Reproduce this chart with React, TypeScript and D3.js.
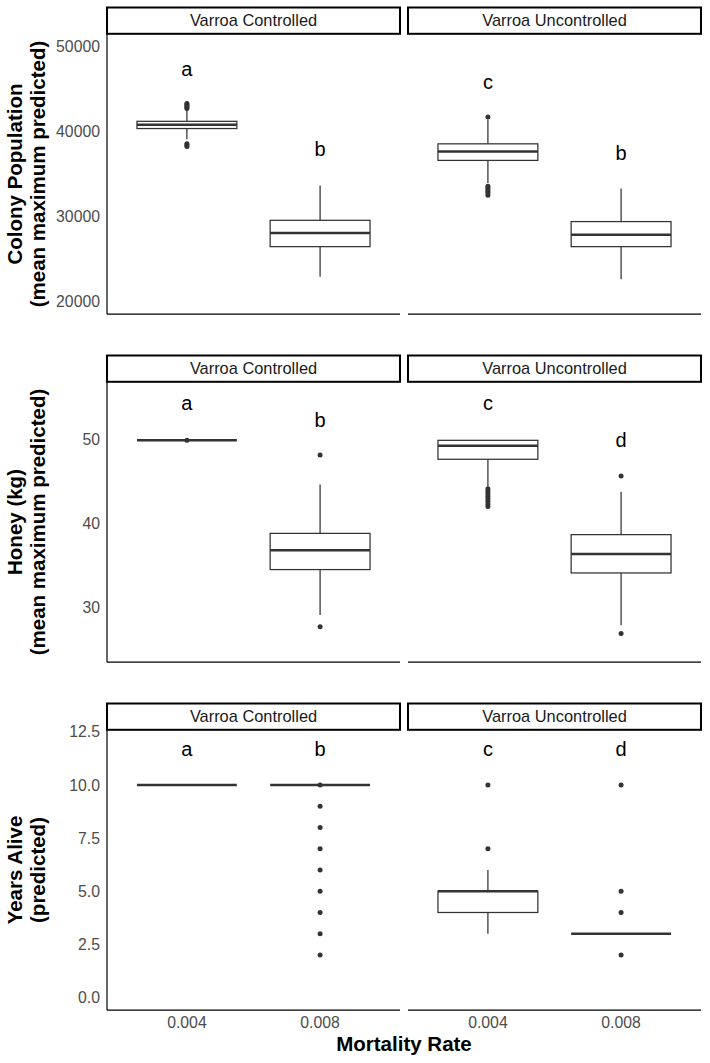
import React from "react";
import * as d3 from "d3";

const mortalityRates = ["0.004", "0.008"];
const varroaFacets = ["Varroa Controlled", "Varroa Uncontrolled"];

type Box = {
  facet: string;
  rate: string;
  lo: number;
  q1: number;
  median: number;
  q3: number;
  hi: number;
  outliers: number[];
};

const colonyBoxes: Box[] = [
  { facet: "Varroa Controlled", rate: "0.004", lo: 39100, q1: 40350, median: 40800, q3: 41200, hi: 42500, outliers: [43300, 43150, 43000, 42850, 42700, 38550, 38400, 38250] },
  { facet: "Varroa Controlled", rate: "0.008", lo: 22900, q1: 26450, median: 28050, q3: 29550, hi: 33650, outliers: [] },
  { facet: "Varroa Uncontrolled", rate: "0.004", lo: 33950, q1: 36600, median: 37650, q3: 38550, hi: 41400, outliers: [41700, 33550, 33350, 33150, 32950, 32750, 32500] },
  { facet: "Varroa Uncontrolled", rate: "0.008", lo: 22600, q1: 26450, median: 27850, q3: 29400, hi: 33300, outliers: [] },
];

const honeyBoxes: Box[] = [
  { facet: "Varroa Controlled", rate: "0.004", lo: 49.85, q1: 49.85, median: 49.85, q3: 49.85, hi: 49.85, outliers: [49.85] },
  { facet: "Varroa Controlled", rate: "0.008", lo: 29.1, q1: 34.5, median: 36.8, q3: 38.8, hi: 44.6, outliers: [48.1, 27.7] },
  { facet: "Varroa Uncontrolled", rate: "0.004", lo: 44.4, q1: 47.6, median: 49.2, q3: 49.85, hi: 49.85, outliers: [44.1, 43.8, 43.5, 43.2, 42.9, 42.6, 42.3, 42.0] },
  { facet: "Varroa Uncontrolled", rate: "0.008", lo: 27.9, q1: 34.1, median: 36.35, q3: 38.65, hi: 43.75, outliers: [45.6, 26.9] },
];

const yearsBoxes: Box[] = [
  { facet: "Varroa Controlled", rate: "0.004", lo: 10, q1: 10, median: 10, q3: 10, hi: 10, outliers: [] },
  { facet: "Varroa Controlled", rate: "0.008", lo: 10, q1: 10, median: 10, q3: 10, hi: 10, outliers: [10, 9, 8, 7, 6, 5, 4, 3, 2] },
  { facet: "Varroa Uncontrolled", rate: "0.004", lo: 3, q1: 4, median: 5, q3: 5, hi: 6, outliers: [7, 10] },
  { facet: "Varroa Uncontrolled", rate: "0.008", lo: 3, q1: 3, median: 3, q3: 3, hi: 3, outliers: [10, 5, 4, 2] },
];

const colonyLetters = ["a", "b", "c", "b"];
const colonyLetterY = [47400, 37900, 45850, 37500];
const honeyLetters = ["a", "b", "c", "d"];
const honeyLetterY = [54.25, 52.3, 54.25, 49.85];
const yearsLetters = ["a", "b", "c", "d"];
const yearsLetterY = [11.7, 11.7, 11.7, 11.7];

const colonyTicks = [20000, 30000, 40000, 50000];
const honeyTicks = [30, 40, 50];
const yearsTicks = [0, 2.5, 5, 7.5, 10, 12.5];

const colonyDomain = [18500, 51500];
const honeyDomain = [23.5, 56.8];
const yearsDomain = [-0.6, 12.6];

const FONT = "'Liberation Sans', Arial, Helvetica, sans-serif";
const BOX_COLOR = "#333333";

type Row = {
  boxes: Box[];
  letters: string[];
  letterY: number[];
  ticks: number[];
  domain: number[];
  fmt: (v: number) => string;
  title: string[];
  top: number;
  showX: boolean;
};

const rows: Row[] = [
  { boxes: colonyBoxes, letters: colonyLetters, letterY: colonyLetterY, ticks: colonyTicks, domain: colonyDomain, fmt: d3.format("d"), title: ["Colony Population", "(mean maximum predicted)"], top: 7.5, showX: false },
  { boxes: honeyBoxes, letters: honeyLetters, letterY: honeyLetterY, ticks: honeyTicks, domain: honeyDomain, fmt: d3.format("d"), title: ["Honey (kg)", "(mean maximum predicted)"], top: 355.5, showX: false },
  { boxes: yearsBoxes, letters: yearsLetters, letterY: yearsLetterY, ticks: yearsTicks, domain: yearsDomain, fmt: d3.format(".1f"), title: ["Years Alive", "(predicted)"], top: 703.5, showX: true },
];

const STRIP_H = 26.3;
const PANEL_H = 280.4;
const panelLefts = [107, 408];
const PANEL_W = 293;

function RowView({ row }: { row: Row }) {
  const stripTop = row.top;
  const pTop = stripTop + STRIP_H;
  const pBottom = pTop + PANEL_H;
  const y = d3.scaleLinear().domain(row.domain).range([pBottom, pTop]);
  const x = d3.scalePoint<string>().domain(mortalityRates).range([0, PANEL_W]).padding(0.6);
  const bw = x.step() * 0.75;
  const cy = (pTop + pBottom) / 2;
  return (
    <g>
      <text transform={`translate(0, ${cy}) rotate(-90)`} textAnchor="middle" fontFamily={FONT} fontWeight="bold" fontSize={20.5} fill="#000">
        <tspan x={0} y={22}>{row.title[0]}</tspan>
        <tspan x={0} y={44.5}>{row.title[1]}</tspan>
      </text>
      {row.ticks.map((t) => (
        <text key={t} x={100} y={y(t)} dy="0.35em" textAnchor="end" fontFamily={FONT} fontSize={15.8} fill="#4d4d4d">
          {row.fmt(t)}
        </text>
      ))}
      {varroaFacets.map((facet, fi) => {
        const left = panelLefts[fi];
        const boxes = row.boxes.filter((b) => b.facet === facet);
        return (
          <g key={facet}>
            <rect x={left} y={stripTop} width={PANEL_W} height={STRIP_H} fill="white" stroke="#000" strokeWidth={2} />
            <text x={left + PANEL_W / 2} y={stripTop + STRIP_H / 2} dy="0.35em" textAnchor="middle" fontFamily={FONT} fontSize={16.4} fill="#1a1a1a">
              {facet}
            </text>
            {fi === 0 && <line x1={left} x2={left} y1={pTop} y2={pBottom} stroke="#000" strokeWidth={1.2} />}
            <line x1={left} x2={left + PANEL_W} y1={pBottom} y2={pBottom} stroke="#000" strokeWidth={1.2} />
            {boxes.map((b) => {
              const cx = left + (x(b.rate) as number);
              return (
                <g key={b.rate}>
                  <line x1={cx} x2={cx} y1={y(b.hi)} y2={y(b.q3)} stroke={BOX_COLOR} strokeWidth={1.25} />
                  <line x1={cx} x2={cx} y1={y(b.q1)} y2={y(b.lo)} stroke={BOX_COLOR} strokeWidth={1.25} />
                  <rect x={cx - bw / 2} y={y(b.q3)} width={bw} height={Math.max(0, y(b.q1) - y(b.q3))} fill="white" stroke={BOX_COLOR} strokeWidth={1.25} />
                  <line x1={cx - bw / 2} x2={cx + bw / 2} y1={y(b.median)} y2={y(b.median)} stroke={BOX_COLOR} strokeWidth={2.4} />
                  {b.outliers.map((o, i) => (
                    <circle key={i} cx={cx} cy={y(o)} r={2.5} fill={BOX_COLOR} />
                  ))}
                </g>
              );
            })}
            {mortalityRates.map((r, ri) => {
              const idx = fi * 2 + ri;
              return (
                <text key={r} x={left + (x(r) as number)} y={y(row.letterY[idx])} dy="0.35em" textAnchor="middle" fontFamily={FONT} fontSize={20} fill="#000">
                  {row.letters[idx]}
                </text>
              );
            })}
            {row.showX &&
              mortalityRates.map((r) => (
                <text key={"xt" + r} x={left + (x(r) as number)} y={pBottom + 12} dy="0.35em" textAnchor="middle" fontFamily={FONT} fontSize={15.8} fill="#4d4d4d">
                  {r}
                </text>
              ))}
          </g>
        );
      })}
    </g>
  );
}

export default function App() {
  return (
    <div style={{ position: "absolute", left: 0, top: 0 }}>
      <svg width={710} height={1063} style={{ display: "block", background: "white" }}>
        <rect x={0} y={0} width={710} height={1063} fill="white" />
        {rows.map((row, i) => (
          <RowView key={i} row={row} />
        ))}
        <text x={404} y={1050.5} textAnchor="middle" fontFamily={FONT} fontWeight="bold" fontSize={20.5} fill="#000">
          Mortality Rate
        </text>
      </svg>
    </div>
  );
}
